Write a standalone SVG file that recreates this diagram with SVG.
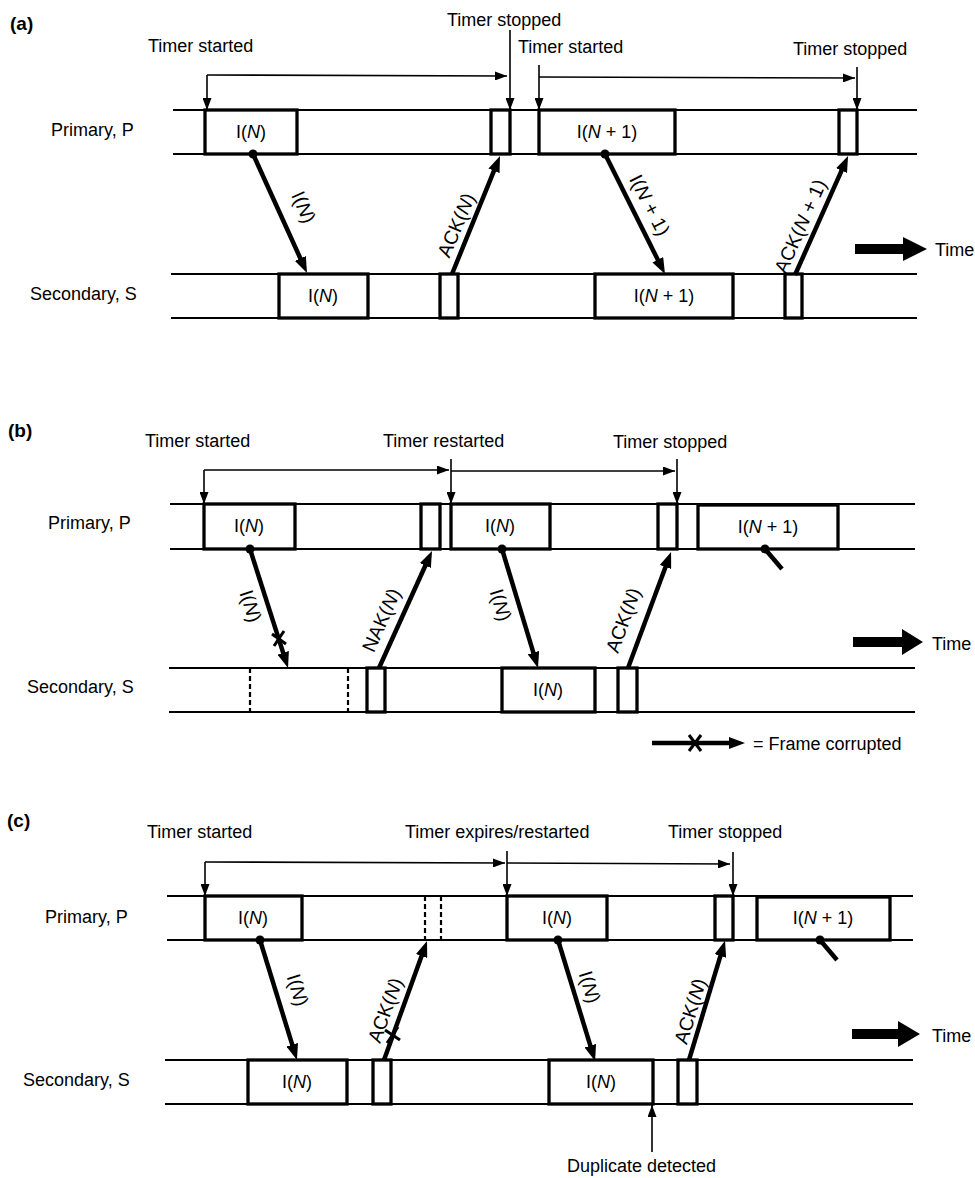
<svg xmlns="http://www.w3.org/2000/svg" width="975" height="1178" viewBox="0 0 975 1178">
<style>
text{font-family:"Liberation Sans",Arial,sans-serif;font-size:18px;fill:#000}
.pl{font-weight:bold;font-size:19px}
.lab{font-size:19.5px}
.ct{text-anchor:middle;dominant-baseline:central}
.lane{stroke:#000;stroke-width:2;fill:none}
.box{fill:#fff;stroke:#000;stroke-width:3.3}
.dash{stroke:#000;stroke-width:2.2;stroke-dasharray:5 3;fill:none}
.thin{stroke:#000;stroke-width:1.6;fill:none;marker-end:url(#th)}
.thk{stroke:#000;stroke-width:4.5;fill:none;marker-end:url(#ah)}
.xm{stroke:#000;stroke-width:3;fill:none}
.big{fill:#000}
</style>
<defs>
<marker id="ah" markerUnits="userSpaceOnUse" markerWidth="16" markerHeight="12" refX="8" refY="6" orient="auto"><path d="M0,0 L16,6 L0,12 z" fill="#000"/></marker>
<marker id="th" markerUnits="userSpaceOnUse" markerWidth="12" markerHeight="9" refX="12" refY="4.5" orient="auto"><path d="M0,0 L12,4.5 L0,9 z" fill="#000"/></marker>
</defs>
<rect width="975" height="1178" fill="#fff"/>

<!-- ===== Panel (a) ===== -->
<g id="panel-a-title"><text class="pl" x="10" y="30">(a)</text></g>
<g id="a-lane-P">
<line class="lane" x1="173" y1="110" x2="917" y2="110"/><line class="lane" x1="173" y1="154" x2="917" y2="154"/>
<text x="51" y="136">Primary, P</text></g>
<g id="a-lane-S">
<line class="lane" x1="171" y1="274" x2="917" y2="274"/><line class="lane" x1="171" y1="318" x2="917" y2="318"/>
<text x="30" y="300">Secondary, S</text></g>
<g id="a-P-IN"><rect class="box" x="205" y="110" width="92" height="44"/><text class="ct" x="251" y="132">I(<tspan font-style="italic">N</tspan>)</text></g>
<g id="a-P-ack1"><rect class="box" x="491" y="110" width="19" height="44"/></g>
<g id="a-P-IN1"><rect class="box" x="539" y="110" width="136" height="44"/><text class="ct" x="607" y="132">I(<tspan font-style="italic">N</tspan> + 1)</text></g>
<g id="a-P-ack2"><rect class="box" x="839" y="110" width="18" height="44"/></g>
<g id="a-S-IN"><rect class="box" x="279" y="274" width="89" height="44"/><text class="ct" x="323" y="296">I(<tspan font-style="italic">N</tspan>)</text></g>
<g id="a-S-ack1"><rect class="box" x="440" y="274" width="18" height="44"/></g>
<g id="a-S-IN1"><rect class="box" x="595" y="274" width="138" height="44"/><text class="ct" x="664" y="296">I(<tspan font-style="italic">N</tspan> + 1)</text></g>
<g id="a-S-ack2"><rect class="box" x="785" y="274" width="17" height="44"/></g>
<g id="a-timer-labels">
<text x="148" y="52">Timer started</text>
<text x="447" y="26">Timer stopped</text>
<text x="518" y="53">Timer started</text>
<text x="793" y="55">Timer stopped</text>
</g>
<g id="a-time"><polygon class="big" points="855,244 903,244 903,237 927,249 903,261 903,254 855,254"/><text x="935" y="256">Time</text></g>

<!-- ===== Panel (b) ===== -->
<g id="panel-b-title"><text class="pl" x="8" y="437">(b)</text></g>
<g id="b-lane-P">
<line class="lane" x1="170" y1="504" x2="915" y2="504"/><line class="lane" x1="170" y1="549" x2="915" y2="549"/>
<text x="48" y="529">Primary, P</text></g>
<g id="b-lane-S">
<line class="lane" x1="169" y1="668" x2="915" y2="668"/><line class="lane" x1="169" y1="712" x2="915" y2="712"/>
<text x="27" y="693">Secondary, S</text></g>
<g id="b-P-IN"><rect class="box" x="204" y="504" width="91" height="45"/><text class="ct" x="249" y="526">I(<tspan font-style="italic">N</tspan>)</text></g>
<g id="b-P-nak"><rect class="box" x="421" y="504" width="19" height="45"/></g>
<g id="b-P-IN2"><rect class="box" x="451" y="504" width="99" height="45"/><text class="ct" x="500" y="526">I(<tspan font-style="italic">N</tspan>)</text></g>
<g id="b-P-ack"><rect class="box" x="658" y="504" width="19" height="45"/></g>
<g id="b-P-IN1"><rect class="box" x="698" y="505" width="140" height="44"/><text class="ct" x="768" y="527">I(<tspan font-style="italic">N</tspan> + 1)</text></g>
<g id="b-S-lost"><line class="dash" x1="250" y1="668" x2="250" y2="712"/><line class="dash" x1="348" y1="668" x2="348" y2="712"/></g>
<g id="b-S-nak"><rect class="box" x="367" y="668" width="18" height="44"/></g>
<g id="b-S-IN"><rect class="box" x="502" y="668" width="93" height="44"/><text class="ct" x="548" y="690">I(<tspan font-style="italic">N</tspan>)</text></g>
<g id="b-S-ack"><rect class="box" x="618" y="668" width="19" height="44"/></g>
<g id="b-timer-labels">
<text x="145" y="447">Timer started</text>
<text x="383" y="447">Timer restarted</text>
<text x="613" y="448">Timer stopped</text>
</g>
<g id="b-time"><polygon class="big" points="853,637 902,637 902,629 923,642 902,655 902,647 853,647"/><text x="932" y="650">Time</text></g>
<g id="legend"><line class="thk" x1="652" y1="743" x2="737" y2="743"/><line class="xm" x1="689" y1="735" x2="701" y2="751"/><line class="xm" x1="689" y1="751" x2="701" y2="735"/><text x="753" y="750">= Frame corrupted</text></g>

<!-- ===== Panel (c) ===== -->
<g id="panel-c-title"><text class="pl" x="7" y="827">(c)</text></g>
<g id="c-lane-P">
<line class="lane" x1="167" y1="896" x2="913" y2="896"/><line class="lane" x1="167" y1="940" x2="913" y2="940"/>
<text x="45" y="923">Primary, P</text></g>
<g id="c-lane-S">
<line class="lane" x1="165" y1="1060" x2="913" y2="1060"/><line class="lane" x1="165" y1="1104" x2="913" y2="1104"/>
<text x="23" y="1086">Secondary, S</text></g>
<g id="c-P-IN"><rect class="box" x="205" y="896" width="97" height="44"/><text class="ct" x="253" y="918">I(<tspan font-style="italic">N</tspan>)</text></g>
<g id="c-P-lost"><line class="dash" x1="425" y1="896" x2="425" y2="940"/><line class="dash" x1="441" y1="896" x2="441" y2="940"/></g>
<g id="c-P-IN2"><rect class="box" x="507" y="896" width="100" height="44"/><text class="ct" x="557" y="918">I(<tspan font-style="italic">N</tspan>)</text></g>
<g id="c-P-ack"><rect class="box" x="715" y="896" width="18" height="44"/></g>
<g id="c-P-IN1"><rect class="box" x="757" y="897" width="133" height="43"/><text class="ct" x="823" y="918">I(<tspan font-style="italic">N</tspan> + 1)</text></g>
<g id="c-S-IN"><rect class="box" x="248" y="1060" width="99" height="44"/><text class="ct" x="297" y="1082">I(<tspan font-style="italic">N</tspan>)</text></g>
<g id="c-S-ack1"><rect class="box" x="373" y="1060" width="18" height="44"/></g>
<g id="c-S-IN2"><rect class="box" x="549" y="1060" width="104" height="44"/><text class="ct" x="601" y="1082">I(<tspan font-style="italic">N</tspan>)</text></g>
<g id="c-S-ack2"><rect class="box" x="678" y="1060" width="19" height="44"/></g>
<g id="c-timer-labels">
<text x="147" y="838">Timer started</text>
<text x="405" y="838">Timer expires/restarted</text>
<text x="668" y="838">Timer stopped</text>
</g>
<g id="c-time"><polygon class="big" points="852,1029 898,1029 898,1021 920,1034 898,1047 898,1039 852,1039"/><text x="932" y="1042">Time</text></g>
<g id="c-dup"><text x="567" y="1172">Duplicate detected</text></g>

<!-- ===== Connectors ===== -->
<g id="connectors">
<!-- (a) timers -->
<line class="thin" x1="207" y1="75" x2="507" y2="76"/>
<line class="thin" x1="207" y1="75" x2="207" y2="110"/>
<line class="thin" x1="510" y1="30" x2="510" y2="110"/>
<line class="thin" x1="539" y1="77" x2="855" y2="78"/>
<line class="thin" x1="539" y1="65" x2="539" y2="110"/>
<line class="thin" x1="857" y1="67" x2="857" y2="110"/>
<!-- (a) frames -->
<circle cx="253" cy="154" r="4.5"/>
<line class="thk" x1="253" y1="154" x2="303.7" y2="265.7"/>
<text class="lab ct" transform="rotate(66 304 207)" x="304" y="207">I(<tspan font-style="italic">N</tspan>)</text>
<line class="thk" x1="452" y1="274" x2="497" y2="163.4"/>
<text class="lab ct" transform="rotate(-67 456 225)" x="456" y="225">ACK(<tspan font-style="italic">N</tspan>)</text>
<circle cx="605" cy="154" r="4.5"/>
<line class="thk" x1="605" y1="154" x2="661.4" y2="266.9"/>
<text class="lab ct" transform="rotate(63 650 205)" x="650" y="205">I(<tspan font-style="italic">N</tspan> + 1)</text>
<line class="thk" x1="795" y1="275" x2="844.8" y2="163.3"/>
<text class="lab ct" transform="rotate(-66 800 226)" x="800" y="226">ACK(<tspan font-style="italic">N</tspan> + 1)</text>

<!-- (b) timers -->
<line class="thin" x1="204" y1="470" x2="449" y2="470"/>
<line class="thin" x1="204" y1="470" x2="204" y2="504"/>
<line class="thin" x1="451" y1="459" x2="451" y2="504"/>
<line class="thin" x1="451" y1="471" x2="675" y2="471"/>
<line class="thin" x1="677" y1="459" x2="677" y2="504"/>
<!-- (b) frames -->
<circle cx="250" cy="549" r="4.5"/>
<line class="thk" x1="250" y1="549" x2="285.6" y2="660.4"/>
<line class="xm" x1="272" y1="634" x2="286" y2="644"/><line class="xm" x1="274" y1="646" x2="284" y2="631"/>
<text class="lab ct" transform="rotate(72 251 606)" x="251" y="606">I(<tspan font-style="italic">N</tspan>)</text>
<line class="thk" x1="379" y1="668" x2="428.7" y2="558.3"/>
<text class="lab ct" transform="rotate(-66 381 620)" x="381" y="620">NAK(<tspan font-style="italic">N</tspan>)</text>
<circle cx="502" cy="549" r="4.5"/>
<line class="thk" x1="502" y1="549" x2="535.7" y2="660.3"/>
<text class="lab ct" transform="rotate(73 501 605)" x="501" y="605">I(<tspan font-style="italic">N</tspan>)</text>
<line class="thk" x1="628" y1="668" x2="668.3" y2="559.5"/>
<text class="lab ct" transform="rotate(-70 623 620)" x="623" y="620">ACK(<tspan font-style="italic">N</tspan>)</text>
<circle cx="765" cy="549" r="4.5"/>
<line stroke="#000" stroke-width="4.5" x1="765" y1="549" x2="782" y2="569"/>

<!-- (c) timers -->
<line class="thin" x1="205" y1="862" x2="505" y2="863"/>
<line class="thin" x1="205" y1="862" x2="205" y2="896"/>
<line class="thin" x1="507" y1="851" x2="507" y2="896"/>
<line class="thin" x1="507" y1="863" x2="730" y2="864"/>
<line class="thin" x1="733" y1="852" x2="733" y2="896"/>
<line class="thin" x1="652" y1="1152" x2="652" y2="1105"/>
<!-- (c) frames -->
<circle cx="260" cy="940" r="4.5"/>
<line class="thk" x1="260" y1="940" x2="294.6" y2="1052.4"/>
<text class="lab ct" transform="rotate(73 298 990)" x="298" y="990">I(<tspan font-style="italic">N</tspan>)</text>
<line class="thk" x1="384" y1="1060" x2="424.3" y2="948.5"/>
<line class="xm" x1="385" y1="1030" x2="400" y2="1040"/><line class="xm" x1="387" y1="1043" x2="398" y2="1027"/>
<text class="lab ct" transform="rotate(-70 385 1010)" x="385" y="1010">ACK(<tspan font-style="italic">N</tspan>)</text>
<circle cx="558" cy="940" r="4.5"/>
<line class="thk" x1="558" y1="940" x2="592.7" y2="1053.3"/>
<text class="lab ct" transform="rotate(73 590 987)" x="590" y="987">I(<tspan font-style="italic">N</tspan>)</text>
<line class="thk" x1="689" y1="1060" x2="722.7" y2="948.3"/>
<text class="lab ct" transform="rotate(-73 690 1011)" x="690" y="1011">ACK(<tspan font-style="italic">N</tspan>)</text>
<circle cx="820" cy="940" r="4.5"/>
<line stroke="#000" stroke-width="4.5" x1="820" y1="940" x2="837" y2="960"/>
</g>
</svg>
